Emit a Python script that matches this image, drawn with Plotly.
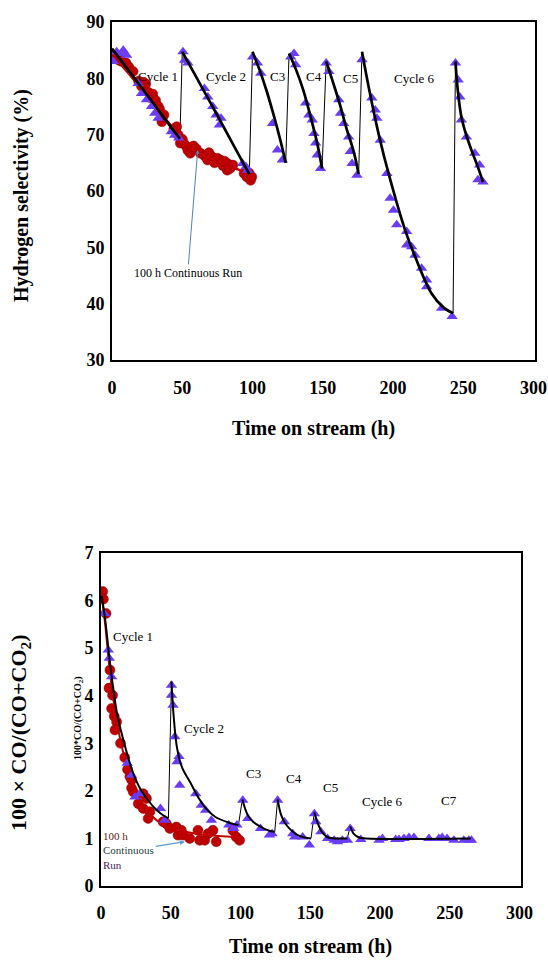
import plotly.graph_objects as go

# ---------------- Top chart data (Hydrogen selectivity) ----------------
top_red_x = [0, 1, 3, 5, 7, 10, 12, 15, 19, 21, 22.5, 24, 26, 28, 29, 31, 33, 34, 35.5, 37, 44, 46, 47,
             48.6, 50, 51, 53, 54, 55.7, 57, 58, 60, 62.9, 66, 68, 69, 71, 73, 75, 77, 79, 80, 82, 82,
             84, 86, 94, 96, 97.5, 98.6, 99.5]
top_red_y = [84, 83.5, 84, 83.2, 83, 82.7, 82, 81.2, 79.5, 78.6, 79.3, 79, 77.5, 76.5, 77.2, 76.1, 75,
             74.4, 72.3, 73.5, 71, 71.4, 70, 68.5, 69.2, 68.5, 67.9, 67.2, 66.7, 67.6, 68, 67.5, 66.7,
             66.2, 65.5, 66.8, 66.1, 65, 65.8, 65.5, 64.5, 65.3, 64.9, 63.7, 64, 64.6, 63.1, 62.5,
             63.2, 61.9, 62.5]
top_red_fit_x = [0, 10, 20, 30, 40, 48, 55, 62, 70, 80, 90, 99]
top_red_fit_y = [84.2, 81.4, 78.4, 75.3, 72.2, 69.8, 68.0, 66.8, 65.8, 64.7, 63.8, 63.0]

top_blue_x = [0.9, 3.3, 6.9, 8, 10.4, 18.6, 21, 24.5, 28.1, 30.4, 32.8, 42.2, 44.6, 47.5,
              50.5, 51.7, 54, 65.8, 68.2, 71.7, 74.1, 77.6, 76.4, 92.9, 95.3, 96.5,
              100, 103.5, 105.9, 114.2, 117.7, 121.2,
              127.2, 129.5, 130.7, 137.8, 140.1, 142.5, 143.7, 144.9, 146, 148.4,
              152.4, 154.3, 161.4, 162.6, 164.9, 168.4, 169.6, 170.8, 174.3,
              177.9, 184.9, 187.3, 188.5, 190.9, 195.6, 197.9, 200.3, 202.6, 209.7, 209.7, 213.2,
              215.6, 220.3, 223.9, 223.9, 234.5, 242,
              244.4, 246.3, 247.5, 248.6, 252.2, 258.1, 261.6, 260.4, 264]
top_blue_y = [83, 84.7, 84.4, 85, 84.1, 79.1, 77.3, 76.2, 75, 73.8, 72.9, 70.5, 69.9, 69.4,
              84.7, 83.2, 82.7, 78.2, 76.7, 75, 73.5, 72.9, 71.7, 64.9, 64.3, 63.7,
              83.8, 82.7, 80.9, 72, 67.3, 65.5,
              83.8, 84.4, 82.4, 75.6, 73.5, 72.6, 70.2, 68.5, 66.4, 64,
              82.7, 81.2, 76.2, 73.8, 72, 69.6, 67, 64.9, 62.8,
              83.3, 76.5, 74.4, 72.9, 69, 63.1, 58.7, 56.6, 54, 52.8, 50.4, 50.1,
              48.6, 46.3, 44.2, 43, 39.2, 37.7,
              82.7, 79.7, 76.7, 72.6, 69.6, 66.7, 64.6, 62, 61.6]

# cycle fit curves (None separates cycles)
top_fit_x = [0, 10, 20, 30, 40, 48.3, None,
             50, 60, 70, 80, 90, 97.7, None,
             100, 105, 110, 115, 120, 123.6, None,
             126, 131, 136, 141, 146, 149.5, None,
             152.4, 157, 162, 167, 172, 175.5, None,
             177.9, 183, 190, 198, 208.5, 215.6, 227.4, 236, 242.7, None,
             244.4, 246, 248.6, 252, 255.7, 260, 264]
top_fit_y = [85.3, 82, 78.7, 75.4, 72, 69.3, None,
             84.7, 80.2, 75.7, 71.1, 66.5, 63, None,
             84.7, 81.5, 77.8, 73.5, 68.8, 65, None,
             84.4, 81.5, 78, 73.5, 68.5, 64, None,
             83, 79.5, 75.5, 71, 67, 63, None,
             84.7, 78, 69.8, 62, 53.1, 48.4, 41.8, 39.3, 38.3, None,
             83, 78, 73.2, 70, 67.3, 64.5, 61.6]
# regeneration jumps
top_jump_x = [48.3, 50, None, 97.7, 100, None, 123.6, 126, None, 149.5, 152.4, None,
              175.5, 177.9, None, 242.7, 244.4]
top_jump_y = [69.3, 84.7, None, 63, 84.7, None, 65, 84.4, None, 64, 83, None,
              63, 84.7, None, 38.3, 83]

top_cycle_labels = ["Cycle 1", "Cycle 2", "C3", "C4", "C5", "Cycle 6"]
top_cycle_lx = [32.8, 81, 117.7, 143.7, 169.6, 215.6]
top_cycle_ly = [80.3, 80.3, 80.3, 80.3, 80.0, 80.0]

# ---------------- Bottom chart data (100*CO/(CO+CO2)) ----------------
bot_red_x = [1.2, 1.7, 3.6, 6.4, 5.7, 8.3, 7.6, 9.5, 11.2, 10, 14, 17, 19, 20.7, 21.9, 21.9, 23.1,
             30.2, 26.7, 32.6, 30.2, 35, 33.8, 44.5, 46.9, 49.3, 54, 55.2, 57.6, 58.8, 63.6,
             69.5, 70.7, 74.3, 76.7, 80.2, 82.6, 94.5, 96.9, 99.3]
bot_red_y = [6.19, 6.03, 5.73, 4.54, 4.16, 4.01, 3.73, 3.57, 3.45, 3.28, 3.0, 2.7, 2.45, 2.3, 2.23,
             2.06, 1.98, 1.94, 1.73, 1.84, 1.63, 1.56, 1.42, 1.35, 1.31, 1.21, 1.24, 1.07, 1.17,
             1.07, 1.0, 1.17, 0.96, 0.96, 1.1, 1.17, 0.93, 1.17, 1.03, 0.96]
bot_red_fit_x = [0, 3, 6, 9, 12, 16, 20, 25, 30, 35, 40, 45, 50, 58.8, 70, 80, 90, 97]
bot_red_fit_y = [6.2, 5.5, 4.6, 3.9, 3.35, 2.8, 2.4, 2.0, 1.72, 1.52, 1.38, 1.28, 1.22, 1.15,
                 1.09, 1.06, 1.04, 1.03]

bot_blue_x = [2.4, 5.2, 5.9, 7.6, 18.8, 21.9, 24.3, 27.9, 42.6, 45.7,
              50.5, 50.5, 51.6, 52.9, 54.5, 55.9, 56.4, 67.9, 71.9, 75, 79.1, 91.6, 95, 97.4,
              101.6, 105.2, 114.3, 120.7, 122.6,
              126.6, 131.4, 137.4, 138.8, 144.5, 149.3,
              152.9, 154, 157.6, 162.4, 167.1, 169.5, 173, 176.6,
              178.6, 186.2, 199.3, 201.7, 211.2, 213.6, 217.1, 220.7, 224.3, 235, 242.1, 244.5,
              248, 252.9, 260, 263.6, 265.5]
bot_blue_y = [5.73, 4.96, 4.79, 4.4, 2.58, 2.33, 1.87, 1.94, 1.63, 1.38,
              4.22, 4.01, 3.8, 3.14, 2.61, 2.72, 2.12, 1.94, 1.7, 1.59, 1.38, 1.28, 1.21, 1.28,
              1.8, 1.42, 1.21, 1.07, 1.1,
              1.8, 1.35, 1.1, 1.03, 1.03, 0.86,
              1.52, 1.35, 1.14, 1.0, 0.96, 0.93, 0.96, 0.96,
              1.21, 0.98, 0.96, 1.0, 0.98, 0.98, 1.0, 1.02, 1.02, 1.0, 1.0, 1.02,
              1.0, 0.96, 0.96, 0.96, 0.96]

bot_fit_x = [0.5, 3, 6, 9, 12, 16, 20, 23.1, 28, 32.6, 38, 43, 48.3, None,
             50.5, 52, 54.5, 58, 64.3, 70, 75.5, 82, 91.9, 98.5, None,
             101.3, 105.2, 109, 113.6, 118, 121.9, 124.5, None,
             126.6, 129, 132, 136, 141, 146, 150.5, None,
             152.9, 155, 158, 162, 167, 176.5, None,
             178.6, 181, 185, 190, 265]
bot_fit_y = [6.1, 5.6, 4.8, 4.1, 3.55, 3.07, 2.65, 2.37, 2.05, 1.85, 1.65, 1.52, 1.42, None,
             4.3, 3.6, 2.9, 2.5, 2.16, 1.85, 1.62, 1.45, 1.33, 1.28, None,
             1.82, 1.49, 1.35, 1.26, 1.19, 1.15, 1.14, None,
             1.82, 1.5, 1.32, 1.18, 1.07, 1.02, 1.0, None,
             1.55, 1.35, 1.15, 1.03, 1.0, 1.0, None,
             1.25, 1.1, 1.02, 1.0, 1.0]
bot_jump_x = [48.3, 50.5, None, 98.5, 101.3, None, 124.5, 126.6, None, 150.5, 152.9, None,
              176.5, 178.6]
bot_jump_y = [1.42, 4.3, None, 1.28, 1.82, None, 1.14, 1.82, None, 1.0, 1.55, None, 1.0, 1.25]

bot_cycle_labels = ["Cycle 1", "Cycle 2", "C3", "C4", "C5", "Cycle 6", "C7"]
bot_cycle_lx = [23, 73.8, 109.5, 138.6, 164.3, 201.7, 249.3]
bot_cycle_ly = [5.24, 3.31, 2.37, 2.27, 2.08, 1.77, 1.79]

x_ticks = [0, 50, 100, 150, 200, 250, 300]
top_y_ticks = [30, 40, 50, 60, 70, 80, 90]
bot_y_ticks = [0, 1, 2, 3, 4, 5, 6, 7]

# ---------------- Figure ----------------
W, H = 548, 960
RED = "#c00000"
BLUE = "#6a3cf5"
SERIF = "Liberation Serif"


def px(x):
    return x / W


def py(y):
    return 1 - y / H


def bold(vals):
    return ["<b>%s</b>" % v for v in vals]


fig = go.Figure()

# top traces
fig.add_trace(go.Scatter(x=top_jump_x, y=top_jump_y, mode="lines",
                         line=dict(color="black", width=1), xaxis="x", yaxis="y", showlegend=False))
fig.add_trace(go.Scatter(x=top_red_x, y=top_red_y, mode="markers",
                         marker=dict(symbol="circle", size=10, color=RED,
                                     line=dict(color="#8b0000", width=0.5)),
                         xaxis="x", yaxis="y", showlegend=False))
fig.add_trace(go.Scatter(x=top_red_fit_x, y=top_red_fit_y, mode="lines", line_shape="spline",
                         line=dict(color=RED, width=2.5), xaxis="x", yaxis="y", showlegend=False))
fig.add_trace(go.Scatter(x=top_blue_x, y=top_blue_y, mode="markers",
                         marker=dict(symbol="triangle-up", size=10, color=BLUE),
                         xaxis="x", yaxis="y", showlegend=False))
fig.add_trace(go.Scatter(x=top_fit_x, y=top_fit_y, mode="lines", line_shape="spline",
                         line=dict(color="black", width=2.7), xaxis="x", yaxis="y", showlegend=False))

# bottom traces
fig.add_trace(go.Scatter(x=bot_jump_x, y=bot_jump_y, mode="lines",
                         line=dict(color="black", width=1), xaxis="x2", yaxis="y2", showlegend=False))
fig.add_trace(go.Scatter(x=bot_red_x, y=bot_red_y, mode="markers",
                         marker=dict(symbol="circle", size=10, color=RED,
                                     line=dict(color="#8b0000", width=0.5)),
                         xaxis="x2", yaxis="y2", showlegend=False))
fig.add_trace(go.Scatter(x=bot_red_fit_x, y=bot_red_fit_y, mode="lines", line_shape="spline",
                         line=dict(color=RED, width=2), xaxis="x2", yaxis="y2", showlegend=False))
fig.add_trace(go.Scatter(x=bot_blue_x, y=bot_blue_y, mode="markers",
                         marker=dict(symbol="triangle-up", size=10, color=BLUE),
                         xaxis="x2", yaxis="y2", showlegend=False))
fig.add_trace(go.Scatter(x=bot_fit_x, y=bot_fit_y, mode="lines", line_shape="spline",
                         line=dict(color="black", width=2), xaxis="x2", yaxis="y2", showlegend=False))

tickfont = dict(family=SERIF, size=18, color="black")
axis_common = dict(showgrid=False, zeroline=False, showline=True, mirror=True,
                   linecolor="black", linewidth=2, ticks="", tickfont=tickfont, automargin=False,
                   ticklabeloverflow="allow")

fig.update_layout(
    width=W, height=H, margin=dict(l=0, r=0, t=0, b=0, autoexpand=False),
    paper_bgcolor="white", plot_bgcolor="white",
    xaxis=dict(domain=[px(112), px(535)], range=[0, 301], tickvals=x_ticks, ticktext=bold(x_ticks),
               anchor="y", ticklabelstandoff=10, **axis_common),
    yaxis=dict(domain=[py(360), py(22)], range=[30, 90], tickvals=top_y_ticks,
               ticktext=bold(top_y_ticks), anchor="x", ticklabelstandoff=2, **axis_common),
    xaxis2=dict(domain=[px(101), px(521)], range=[0, 301], tickvals=x_ticks, ticktext=bold(x_ticks),
                anchor="y2", ticklabelstandoff=9, **axis_common),
    yaxis2=dict(domain=[py(886), py(553)], range=[0, 7], tickvals=bot_y_ticks,
                ticktext=bold(bot_y_ticks), anchor="x2", ticklabelstandoff=2, **axis_common),
)

ann = []
label_font = dict(family=SERIF, size=13, color="black")
for t, x, y in zip(top_cycle_labels, top_cycle_lx, top_cycle_ly):
    ann.append(dict(text=t, x=x, y=y, xref="x", yref="y", showarrow=False, font=label_font))
for t, x, y in zip(bot_cycle_labels, bot_cycle_lx, bot_cycle_ly):
    ann.append(dict(text=t, x=x, y=y, xref="x2", yref="y2", showarrow=False, font=label_font))

# top label with arrow pointing to the red curve
ann.append(dict(text="100 h Continuous Run", x=61, y=67.3, xref="x", yref="y",
                ax=-10, ay=123, showarrow=True, arrowhead=2, arrowsize=0.8, arrowwidth=1,
                arrowcolor="#4f81bd", font=dict(family=SERIF, size=12, color="black")))

# bottom label with arrow
ann.append(dict(text="<span style='color:#5a1a1a'>100 h</span><br>"
                     "<span style='color:#1e3d3d'>Continuous</span><br>"
                     "<span style='color:#4a2060'>Run</span>",
                x=60, y=0.93, xref="x2", yref="y2", ax=-56, ay=9, align="left",
                showarrow=True, arrowhead=2, arrowsize=0.8, arrowwidth=1.2, arrowcolor="#5b9bd5",
                font=dict(family=SERIF, size=11, color="black")))

# axis titles
title_font = dict(family=SERIF, size=20, color="black")
common = dict(xref="paper", yref="paper", showarrow=False, xanchor="center", yanchor="middle")
ann.append(dict(text="<b>Hydrogen selectivity (%)</b>", x=px(22), y=py(196), textangle=-90,
                font=title_font, **common))
ann.append(dict(text="<b>Time on stream (h)</b>", x=px(313), y=py(428), font=title_font, **common))
ann.append(dict(text="<b>100 × CO/(CO+CO<sub>2</sub>)</b>", x=px(20), y=py(733), textangle=-90,
                font=dict(family=SERIF, size=22, color="black"), **common))
ann.append(dict(text="<b>100*CO/(CO+CO<sub>2</sub>)</b>", x=px(78), y=py(718), textangle=-90,
                font=dict(family=SERIF, size=10, color="black"), **common))
ann.append(dict(text="<b>Time on stream (h)</b>", x=px(310), y=py(946), font=title_font, **common))

fig.update_layout(annotations=ann)

fig.write_html("out.html")
